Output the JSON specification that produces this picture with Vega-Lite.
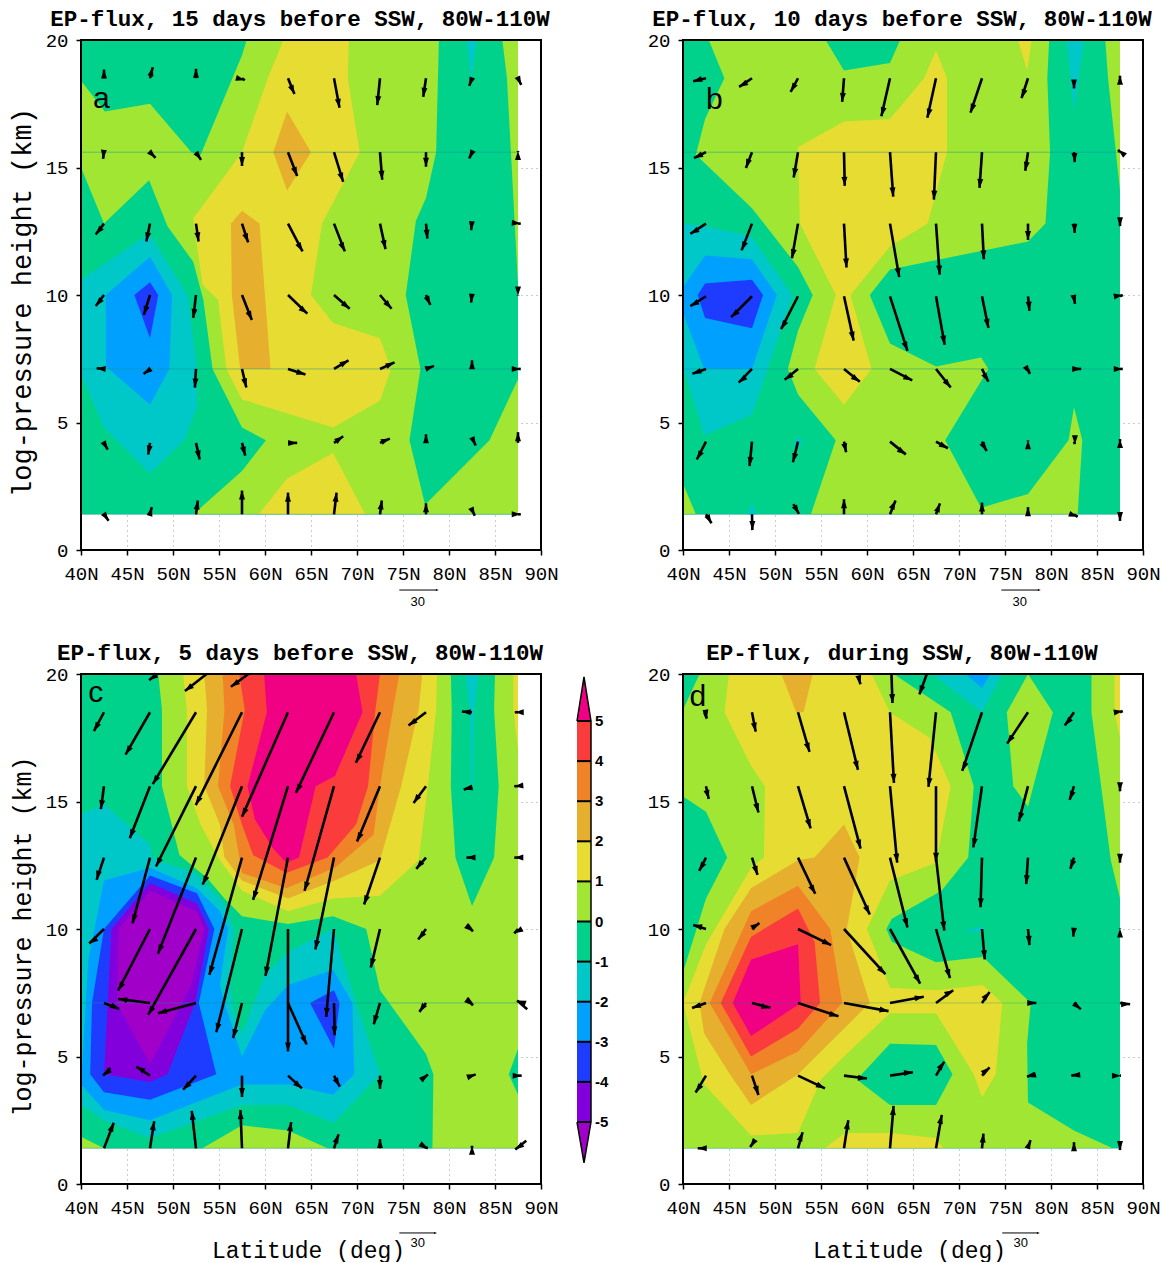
{"$schema":"https://vega.github.io/schema/vega-lite/v6.json","background":"white","padding":{"left":7,"top":7,"right":0,"bottom":0},"bounds":"flush","spacing":634,
"config":{"view":{"stroke":null},"axis":{"labelFont":"Liberation Mono","labelFontSize":19,"labelColor":"black","tickColor":"black","tickSize":5,"tickWidth":1.5,"domain":false,"grid":true,"gridColor":"#999999","gridDash":[1,4],"gridWidth":1,"labelOverlap":false,"labelFlush":false,"labelBound":false,"titleFont":"Liberation Mono","titleFontWeight":"normal","titleColor":"black","zindex":1},"title":{"font":"Liberation Mono","fontSize":22.5,"fontWeight":"bold","color":"black","dx":-11,"offset":1}},
"datasets":{
"box":[{"x":40,"x2":90,"y":0,"y2":20}],
"pa":[
{"k":0,"l":-1,"x":40,"y":1.4},{"k":0,"l":-1,"x":87.5,"y":1.4},{"k":0,"l":-1,"x":87.5,"y":20},{"k":0,"l":-1,"x":40,"y":20},
{"k":1,"l":0,"x":40,"y":18.4},{"k":1,"l":0,"x":42.6,"y":17.2},{"k":1,"l":0,"x":47.5,"y":17.5},{"k":1,"l":0,"x":52,"y":15.6},{"k":1,"l":0,"x":53,"y":15.5},{"k":1,"l":0,"x":57.5,"y":19.4},{"k":1,"l":0,"x":58,"y":20},{"k":1,"l":0,"x":78.9,"y":20},{"k":1,"l":0,"x":78.6,"y":15.6},{"k":1,"l":0,"x":77.5,"y":13.8},{"k":1,"l":0,"x":76.4,"y":12.9},{"k":1,"l":0,"x":75.3,"y":10},{"k":1,"l":0,"x":76.9,"y":7.1},{"k":1,"l":0,"x":75.7,"y":4.3},{"k":1,"l":0,"x":77.4,"y":1.77},{"k":1,"l":0,"x":84.4,"y":4.3},{"k":1,"l":0,"x":87.5,"y":6.7},{"k":1,"l":0,"x":87.5,"y":1.4},{"k":1,"l":0,"x":52.2,"y":1.4},{"k":1,"l":0,"x":57.5,"y":3.1},{"k":1,"l":0,"x":60.1,"y":4.3},{"k":1,"l":0,"x":57.5,"y":4.8},{"k":1,"l":0,"x":54.3,"y":7.1},{"k":1,"l":0,"x":53.3,"y":9.8},{"k":1,"l":0,"x":52.2,"y":11.3},{"k":1,"l":0,"x":49.4,"y":12.7},{"k":1,"l":0,"x":47.4,"y":14.5},{"k":1,"l":0,"x":42.5,"y":12.8},{"k":1,"l":0,"x":40,"y":15},
{"k":2,"l":0,"x":85.8,"y":20},{"k":2,"l":0,"x":86.3,"y":18.5},{"k":2,"l":0,"x":87.5,"y":10.4},{"k":2,"l":0,"x":87.5,"y":20},
{"k":3,"l":1,"x":62,"y":20},{"k":3,"l":1,"x":60.3,"y":18.5},{"k":3,"l":1,"x":57.5,"y":15.6},{"k":3,"l":1,"x":52.2,"y":13},{"k":3,"l":1,"x":53.2,"y":10.4},{"k":3,"l":1,"x":54.9,"y":9.8},{"k":3,"l":1,"x":55.8,"y":7.1},{"k":3,"l":1,"x":57.5,"y":5.9},{"k":3,"l":1,"x":67.4,"y":4.8},{"k":3,"l":1,"x":72.5,"y":5.85},{"k":3,"l":1,"x":73.7,"y":7.1},{"k":3,"l":1,"x":72.5,"y":8.3},{"k":3,"l":1,"x":67.4,"y":8.9},{"k":3,"l":1,"x":65,"y":10},{"k":3,"l":1,"x":66.2,"y":12.8},{"k":3,"l":1,"x":70.3,"y":15.6},{"k":3,"l":1,"x":69,"y":18.5},{"k":3,"l":1,"x":69.1,"y":20},
{"k":4,"l":1,"x":59.3,"y":1.4},{"k":4,"l":1,"x":62.4,"y":2.8},{"k":4,"l":1,"x":67.4,"y":3.8},{"k":4,"l":1,"x":70.9,"y":1.4},
{"k":5,"l":2,"x":62.4,"y":17.2},{"k":5,"l":2,"x":65,"y":15.6},{"k":5,"l":2,"x":62.4,"y":14.1},{"k":5,"l":2,"x":60.9,"y":15.6},
{"k":6,"l":2,"x":57.5,"y":13.3},{"k":6,"l":2,"x":59.4,"y":12.8},{"k":6,"l":2,"x":60.6,"y":7.1},{"k":6,"l":2,"x":57.3,"y":7.1},{"k":6,"l":2,"x":56.4,"y":10},{"k":6,"l":2,"x":56.3,"y":12.8},
{"k":7,"l":-2,"x":40,"y":10.6},{"k":7,"l":-2,"x":47.4,"y":12.4},{"k":7,"l":-2,"x":51.6,"y":10},{"k":7,"l":-2,"x":52.6,"y":7.1},{"k":7,"l":-2,"x":52.6,"y":5.6},{"k":7,"l":-2,"x":51.2,"y":4.3},{"k":7,"l":-2,"x":47.5,"y":3},{"k":7,"l":-2,"x":42.5,"y":4.8},{"k":7,"l":-2,"x":40,"y":6.9},
{"k":8,"l":-3,"x":42.7,"y":10},{"k":8,"l":-3,"x":47.5,"y":11.5},{"k":8,"l":-3,"x":49.9,"y":10},{"k":8,"l":-3,"x":49.6,"y":7.1},{"k":8,"l":-3,"x":47.5,"y":5.7},{"k":8,"l":-3,"x":42.7,"y":7.2},
{"k":9,"l":-4,"x":47.5,"y":10.5},{"k":9,"l":-4,"x":48.4,"y":10},{"k":9,"l":-4,"x":47.5,"y":8.3},{"k":9,"l":-4,"x":45.8,"y":10},
{"k":10,"l":-2,"x":81.9,"y":20},{"k":10,"l":-2,"x":83,"y":20},{"k":10,"l":-2,"x":82.4,"y":18.4}],
"pb":[
{"k":0,"l":-1,"x":40,"y":1.4},{"k":0,"l":-1,"x":87.5,"y":1.4},{"k":0,"l":-1,"x":87.5,"y":20},{"k":0,"l":-1,"x":40,"y":20},
{"k":1,"l":0,"x":42.8,"y":20},{"k":1,"l":0,"x":55.5,"y":20},{"k":1,"l":0,"x":57.5,"y":18.8},{"k":1,"l":0,"x":62.5,"y":19.1},{"k":1,"l":0,"x":63.6,"y":20},{"k":1,"l":0,"x":79.8,"y":20},{"k":1,"l":0,"x":79.6,"y":18.5},{"k":1,"l":0,"x":79.9,"y":15.6},{"k":1,"l":0,"x":79.4,"y":12.8},{"k":1,"l":0,"x":77.5,"y":12.1},{"k":1,"l":0,"x":62.5,"y":11},{"k":1,"l":0,"x":60.3,"y":10},{"k":1,"l":0,"x":62.5,"y":8.1},{"k":1,"l":0,"x":67.5,"y":7.2},{"k":1,"l":0,"x":72.4,"y":7.55},{"k":1,"l":0,"x":73.2,"y":7.1},{"k":1,"l":0,"x":68.5,"y":4.3},{"k":1,"l":0,"x":72.4,"y":1.66},{"k":1,"l":0,"x":77.5,"y":2.2},{"k":1,"l":0,"x":81.9,"y":4.3},{"k":1,"l":0,"x":82.5,"y":5.6},{"k":1,"l":0,"x":83.4,"y":4.3},{"k":1,"l":0,"x":82.9,"y":1.4},{"k":1,"l":0,"x":53.9,"y":1.4},{"k":1,"l":0,"x":56.6,"y":4.3},{"k":1,"l":0,"x":52.5,"y":6.1},{"k":1,"l":0,"x":51.4,"y":7.1},{"k":1,"l":0,"x":52.5,"y":8.6},{"k":1,"l":0,"x":54.1,"y":10},{"k":1,"l":0,"x":52.5,"y":11.1},{"k":1,"l":0,"x":47.5,"y":13.4},{"k":1,"l":0,"x":41.4,"y":15.5},{"k":1,"l":0,"x":42.4,"y":16.9},{"k":1,"l":0,"x":44.5,"y":18.5},
{"k":2,"l":0,"x":85.9,"y":20},{"k":2,"l":0,"x":86.2,"y":18.5},{"k":2,"l":0,"x":87.5,"y":14.1},{"k":2,"l":0,"x":87.5,"y":20},
{"k":3,"l":0,"x":40,"y":2.6},{"k":3,"l":0,"x":41.4,"y":1.4},{"k":3,"l":0,"x":40,"y":1.4},
{"k":4,"l":1,"x":52.5,"y":15.8},{"k":4,"l":1,"x":57.5,"y":16.8},{"k":4,"l":1,"x":62.5,"y":16.9},{"k":4,"l":1,"x":66.2,"y":18.5},{"k":4,"l":1,"x":67.5,"y":19.6},{"k":4,"l":1,"x":68.7,"y":18.5},{"k":4,"l":1,"x":68.7,"y":15.6},{"k":4,"l":1,"x":66.6,"y":12.8},{"k":4,"l":1,"x":62.5,"y":11.9},{"k":4,"l":1,"x":58.2,"y":10},{"k":4,"l":1,"x":60.5,"y":7.1},{"k":4,"l":1,"x":57.5,"y":5.7},{"k":4,"l":1,"x":54.3,"y":7.1},{"k":4,"l":1,"x":56.6,"y":10},{"k":4,"l":1,"x":52.7,"y":12.8},
{"k":5,"l":1,"x":76.4,"y":20},{"k":5,"l":1,"x":77.9,"y":20},{"k":5,"l":1,"x":77.4,"y":18.8},
{"k":6,"l":-2,"x":40,"y":12.8},{"k":6,"l":-2,"x":42.4,"y":12.7},{"k":6,"l":-2,"x":47.4,"y":12.3},{"k":6,"l":-2,"x":51.9,"y":10},{"k":6,"l":-2,"x":50.7,"y":8.7},{"k":6,"l":-2,"x":47.5,"y":5.3},{"k":6,"l":-2,"x":42.3,"y":4.5},{"k":6,"l":-2,"x":40,"y":7.2},
{"k":7,"l":-3,"x":42.4,"y":11.55},{"k":7,"l":-3,"x":47.5,"y":11.4},{"k":7,"l":-3,"x":50.2,"y":10},{"k":7,"l":-3,"x":47.5,"y":7.1},{"k":7,"l":-3,"x":42.3,"y":7.1},{"k":7,"l":-3,"x":40,"y":9.3},{"k":7,"l":-3,"x":40,"y":10.3},
{"k":8,"l":-4,"x":42.4,"y":10.45},{"k":8,"l":-4,"x":47.5,"y":10.6},{"k":8,"l":-4,"x":48.7,"y":10},{"k":8,"l":-4,"x":47.5,"y":8.7},{"k":8,"l":-4,"x":42.4,"y":9.1},{"k":8,"l":-4,"x":41.6,"y":10},
{"k":9,"l":-2,"x":81.7,"y":20},{"k":9,"l":-2,"x":83.6,"y":20},{"k":9,"l":-2,"x":82.5,"y":17.2},
{"k":10,"l":-2,"x":52,"y":4.2},{"k":10,"l":-2,"x":52.5,"y":4.45},{"k":10,"l":-2,"x":53,"y":4.2},{"k":10,"l":-2,"x":52.5,"y":4},
{"k":11,"l":-2,"x":47,"y":1.4},{"k":11,"l":-2,"x":47.5,"y":1.85},{"k":11,"l":-2,"x":48,"y":1.4}],
"pc":[
{"k":0,"l":0,"x":40,"y":1.4},{"k":0,"l":0,"x":87.5,"y":1.4},{"k":0,"l":0,"x":87.5,"y":20},{"k":0,"l":0,"x":40,"y":20},
{"k":1,"l":-1,"x":40,"y":20},{"k":1,"l":-1,"x":48.4,"y":20},{"k":1,"l":-1,"x":48.8,"y":18.6},{"k":1,"l":-1,"x":48.8,"y":15.6},{"k":1,"l":-1,"x":50.7,"y":12.9},{"k":1,"l":-1,"x":53.7,"y":12},{"k":1,"l":-1,"x":55.6,"y":11.2},{"k":1,"l":-1,"x":57.5,"y":10.5},{"k":1,"l":-1,"x":62.5,"y":10.2},{"k":1,"l":-1,"x":67.4,"y":10.5},{"k":1,"l":-1,"x":71,"y":10},{"k":1,"l":-1,"x":72.5,"y":7.6},{"k":1,"l":-1,"x":77.5,"y":5.1},{"k":1,"l":-1,"x":78.3,"y":4.3},{"k":1,"l":-1,"x":78.2,"y":1.4},{"k":1,"l":-1,"x":66.8,"y":1.4},{"k":1,"l":-1,"x":62.5,"y":2.1},{"k":1,"l":-1,"x":57.5,"y":2.3},{"k":1,"l":-1,"x":53.2,"y":1.4},{"k":1,"l":-1,"x":42.5,"y":1.4},{"k":1,"l":-1,"x":40,"y":1.85},
{"k":2,"l":-1,"x":80.2,"y":20},{"k":2,"l":-1,"x":85,"y":20},{"k":2,"l":-1,"x":84.9,"y":18.6},{"k":2,"l":-1,"x":85.4,"y":15.6},{"k":2,"l":-1,"x":84.9,"y":12.8},{"k":2,"l":-1,"x":82.5,"y":10.9},{"k":2,"l":-1,"x":80.7,"y":12.8},{"k":2,"l":-1,"x":80.2,"y":15.6},{"k":2,"l":-1,"x":80.3,"y":18.6},
{"k":3,"l":-1,"x":87.5,"y":5.3},{"k":3,"l":-1,"x":86.5,"y":4.3},{"k":3,"l":-1,"x":87.5,"y":3.5},
{"k":4,"l":1,"x":87,"y":20},{"k":4,"l":1,"x":87.5,"y":20},{"k":4,"l":1,"x":87.5,"y":17},{"k":4,"l":1,"x":87,"y":18.6},
{"k":5,"l":-2,"x":81.8,"y":20},{"k":5,"l":-2,"x":83.2,"y":20},{"k":5,"l":-2,"x":82.7,"y":18.5},{"k":5,"l":-2,"x":82.6,"y":15.6},{"k":5,"l":-2,"x":82.4,"y":15.6},{"k":5,"l":-2,"x":82.3,"y":18.5},
{"k":6,"l":1,"x":51.1,"y":20},{"k":6,"l":1,"x":51.5,"y":18.6},{"k":6,"l":1,"x":51.5,"y":15.6},{"k":6,"l":1,"x":53,"y":14.1},{"k":6,"l":1,"x":54.9,"y":12.8},{"k":6,"l":1,"x":57.5,"y":11.5},{"k":6,"l":1,"x":62.5,"y":10.7},{"k":6,"l":1,"x":67.4,"y":11.2},{"k":6,"l":1,"x":72.5,"y":11.3},{"k":6,"l":1,"x":76.7,"y":12.7},{"k":6,"l":1,"x":77.7,"y":15.6},{"k":6,"l":1,"x":78.6,"y":18.6},{"k":6,"l":1,"x":78.7,"y":20},
{"k":7,"l":2,"x":53.4,"y":20},{"k":7,"l":2,"x":53.7,"y":18.6},{"k":7,"l":2,"x":53.4,"y":15.6},{"k":7,"l":2,"x":55.1,"y":14.1},{"k":7,"l":2,"x":55.6,"y":12.8},{"k":7,"l":2,"x":57.5,"y":11.9},{"k":7,"l":2,"x":62.5,"y":11.2},{"k":7,"l":2,"x":67.6,"y":11.9},{"k":7,"l":2,"x":72.5,"y":12.7},{"k":7,"l":2,"x":74.8,"y":15.6},{"k":7,"l":2,"x":76.7,"y":18.6},{"k":7,"l":2,"x":77.1,"y":20},
{"k":8,"l":3,"x":55.4,"y":20},{"k":8,"l":3,"x":55.6,"y":18.6},{"k":8,"l":3,"x":54.9,"y":15.6},{"k":8,"l":3,"x":56.6,"y":14.1},{"k":8,"l":3,"x":57.5,"y":12.2},{"k":8,"l":3,"x":62.3,"y":11.6},{"k":8,"l":3,"x":67.6,"y":12.4},{"k":8,"l":3,"x":71.8,"y":13.7},{"k":8,"l":3,"x":72.5,"y":15.6},{"k":8,"l":3,"x":73.9,"y":18.6},{"k":8,"l":3,"x":74.6,"y":20},
{"k":9,"l":4,"x":57.2,"y":20},{"k":9,"l":4,"x":57.8,"y":18.6},{"k":9,"l":4,"x":56.2,"y":15.6},{"k":9,"l":4,"x":57.5,"y":14.1},{"k":9,"l":4,"x":58.7,"y":12.9},{"k":9,"l":4,"x":62.3,"y":12.2},{"k":9,"l":4,"x":66.8,"y":12.8},{"k":9,"l":4,"x":69.9,"y":14.1},{"k":9,"l":4,"x":71.2,"y":15.6},{"k":9,"l":4,"x":72,"y":18.6},{"k":9,"l":4,"x":72.5,"y":20},
{"k":10,"l":5,"x":59.9,"y":20},{"k":10,"l":5,"x":60.2,"y":18.5},{"k":10,"l":5,"x":58.1,"y":15.6},{"k":10,"l":5,"x":58.9,"y":14.3},{"k":10,"l":5,"x":60.8,"y":13.2},{"k":10,"l":5,"x":62.3,"y":12.6},{"k":10,"l":5,"x":63.7,"y":12.8},{"k":10,"l":5,"x":65.5,"y":15.6},{"k":10,"l":5,"x":67.6,"y":16},{"k":10,"l":5,"x":70.6,"y":18.5},{"k":10,"l":5,"x":69.9,"y":20},
{"k":11,"l":-2,"x":40,"y":14.5},{"k":11,"l":-2,"x":42.5,"y":14.9},{"k":11,"l":-2,"x":47.5,"y":13.3},{"k":11,"l":-2,"x":47.7,"y":12.8},{"k":11,"l":-2,"x":49,"y":12.6},{"k":11,"l":-2,"x":52.4,"y":12.2},{"k":11,"l":-2,"x":55.55,"y":11},{"k":11,"l":-2,"x":56.6,"y":10},{"k":11,"l":-2,"x":56.2,"y":7.8},{"k":11,"l":-2,"x":56.6,"y":6.7},{"k":11,"l":-2,"x":57.5,"y":5.9},{"k":11,"l":-2,"x":60,"y":8.2},{"k":11,"l":-2,"x":62.5,"y":9.1},{"k":11,"l":-2,"x":67.4,"y":10},{"k":11,"l":-2,"x":69.9,"y":7.1},{"k":11,"l":-2,"x":72.5,"y":4.3},{"k":11,"l":-2,"x":67.5,"y":2.4},{"k":11,"l":-2,"x":62.5,"y":3.1},{"k":11,"l":-2,"x":57.5,"y":3.1},{"k":11,"l":-2,"x":47.5,"y":1.8},{"k":11,"l":-2,"x":42.5,"y":2.5},{"k":11,"l":-2,"x":40,"y":3.1},
{"k":12,"l":-3,"x":40,"y":3.9},{"k":12,"l":-3,"x":40.8,"y":8.8},{"k":12,"l":-3,"x":42.5,"y":11.9},{"k":12,"l":-3,"x":47.5,"y":12.4},{"k":12,"l":-3,"x":52.6,"y":11.6},{"k":12,"l":-3,"x":55.1,"y":10.7},{"k":12,"l":-3,"x":56,"y":10},{"k":12,"l":-3,"x":55.1,"y":7.8},{"k":12,"l":-3,"x":55.6,"y":7.1},{"k":12,"l":-3,"x":57.5,"y":5},{"k":12,"l":-3,"x":60,"y":6.8},{"k":12,"l":-3,"x":62.5,"y":7.8},{"k":12,"l":-3,"x":67.4,"y":8.4},{"k":12,"l":-3,"x":69.5,"y":7.1},{"k":12,"l":-3,"x":69.7,"y":4.3},{"k":12,"l":-3,"x":67.4,"y":3.5},{"k":12,"l":-3,"x":62.5,"y":3.9},{"k":12,"l":-3,"x":57.5,"y":3.9},{"k":12,"l":-3,"x":47.5,"y":2.5},{"k":12,"l":-3,"x":42.5,"y":2.9},
{"k":13,"l":-4,"x":42.5,"y":10},{"k":13,"l":-4,"x":47.5,"y":12.1},{"k":13,"l":-4,"x":52.6,"y":11.4},{"k":13,"l":-4,"x":54.5,"y":10},{"k":13,"l":-4,"x":52.8,"y":7.1},{"k":13,"l":-4,"x":54.7,"y":4.3},{"k":13,"l":-4,"x":47.5,"y":3.3},{"k":13,"l":-4,"x":42.5,"y":3.6},{"k":13,"l":-4,"x":41,"y":4.3},{"k":13,"l":-4,"x":41.2,"y":7.1},
{"k":14,"l":-5,"x":47.5,"y":11.8},{"k":14,"l":-5,"x":52.6,"y":11},{"k":14,"l":-5,"x":53.9,"y":10},{"k":14,"l":-5,"x":52.4,"y":7.1},{"k":14,"l":-5,"x":49.4,"y":4.3},{"k":14,"l":-5,"x":47.5,"y":4},{"k":14,"l":-5,"x":42.5,"y":4.3},{"k":14,"l":-5,"x":42.9,"y":7.1},{"k":14,"l":-5,"x":43.3,"y":10},
{"k":15,"l":-6,"x":47.5,"y":11.5},{"k":15,"l":-6,"x":52.6,"y":10.7},{"k":15,"l":-6,"x":53.4,"y":10},{"k":15,"l":-6,"x":52,"y":7.8},{"k":15,"l":-6,"x":47.5,"y":4.7},{"k":15,"l":-6,"x":43.9,"y":7.1},{"k":15,"l":-6,"x":44.1,"y":10},
{"k":16,"l":-4,"x":64.9,"y":7.1},{"k":16,"l":-4,"x":67.5,"y":7.6},{"k":16,"l":-4,"x":68.1,"y":7.1},{"k":16,"l":-4,"x":67.5,"y":5.3}],
"pd":[
{"k":0,"l":-1,"x":40,"y":1.4},{"k":0,"l":-1,"x":87.5,"y":1.4},{"k":0,"l":-1,"x":87.5,"y":20},{"k":0,"l":-1,"x":40,"y":20},
{"k":1,"l":0,"x":40,"y":18.6},{"k":1,"l":0,"x":41.8,"y":20},{"k":1,"l":0,"x":62.9,"y":20},{"k":1,"l":0,"x":69.1,"y":18.5},{"k":1,"l":0,"x":71.6,"y":15.6},{"k":1,"l":0,"x":71,"y":12.8},{"k":1,"l":0,"x":68.1,"y":11.5},{"k":1,"l":0,"x":62.7,"y":10.4},{"k":1,"l":0,"x":62.1,"y":10},{"k":1,"l":0,"x":62.7,"y":9.5},{"k":1,"l":0,"x":67.5,"y":8.7},{"k":1,"l":0,"x":72.6,"y":8.9},{"k":1,"l":0,"x":77.8,"y":7.1},{"k":1,"l":0,"x":77.4,"y":5.5},{"k":1,"l":0,"x":77.5,"y":3.2},{"k":1,"l":0,"x":82.5,"y":2.1},{"k":1,"l":0,"x":86.7,"y":1.4},{"k":1,"l":0,"x":40,"y":1.4},{"k":1,"l":0,"x":40,"y":8.3},{"k":1,"l":0,"x":42.5,"y":11.2},{"k":1,"l":0,"x":44.8,"y":12.8},{"k":1,"l":0,"x":42.5,"y":14.6},{"k":1,"l":0,"x":40,"y":15.2},
{"k":2,"l":-1,"x":62.5,"y":5.5},{"k":2,"l":-1,"x":67.5,"y":5.45},{"k":2,"l":-1,"x":69.3,"y":4.3},{"k":2,"l":-1,"x":67.5,"y":3.1},{"k":2,"l":-1,"x":62.5,"y":3.1},{"k":2,"l":-1,"x":58.9,"y":4.1},
{"k":3,"l":0,"x":77.5,"y":20},{"k":3,"l":0,"x":80.2,"y":18.5},{"k":3,"l":0,"x":77.5,"y":14.8},{"k":3,"l":0,"x":75.9,"y":15.6},{"k":3,"l":0,"x":75.2,"y":18.5},
{"k":4,"l":0,"x":84.4,"y":20},{"k":4,"l":0,"x":84.4,"y":18.5},{"k":4,"l":0,"x":86.5,"y":12.7},{"k":4,"l":0,"x":87.5,"y":11.2},{"k":4,"l":0,"x":87.5,"y":20},
{"k":5,"l":1,"x":86.9,"y":20},{"k":5,"l":1,"x":87.5,"y":20},{"k":5,"l":1,"x":87.5,"y":17.5},{"k":5,"l":1,"x":86.9,"y":18.5},
{"k":6,"l":1,"x":45,"y":20},{"k":6,"l":1,"x":44.5,"y":18.5},{"k":6,"l":1,"x":47.4,"y":16.4},{"k":6,"l":1,"x":48.9,"y":15.6},{"k":6,"l":1,"x":48.8,"y":12.8},{"k":6,"l":1,"x":47.4,"y":12.4},{"k":6,"l":1,"x":42.5,"y":9.4},{"k":6,"l":1,"x":40,"y":7.1},{"k":6,"l":1,"x":42.3,"y":3.9},{"k":6,"l":1,"x":47.4,"y":1.9},{"k":6,"l":1,"x":52.5,"y":2},{"k":6,"l":1,"x":55,"y":4.1},{"k":6,"l":1,"x":57.5,"y":5},{"k":6,"l":1,"x":62.5,"y":6.7},{"k":6,"l":1,"x":67.5,"y":6.7},{"k":6,"l":1,"x":71.6,"y":4.3},{"k":6,"l":1,"x":72.5,"y":3.4},{"k":6,"l":1,"x":74,"y":4.3},{"k":6,"l":1,"x":74.7,"y":7.1},{"k":6,"l":1,"x":72.6,"y":7.8},{"k":6,"l":1,"x":67.5,"y":7.6},{"k":6,"l":1,"x":62.5,"y":7.7},{"k":6,"l":1,"x":60,"y":10},{"k":6,"l":1,"x":62.5,"y":11.9},{"k":6,"l":1,"x":67.5,"y":12.6},{"k":6,"l":1,"x":69.1,"y":15.6},{"k":6,"l":1,"x":66.8,"y":17.5},{"k":6,"l":1,"x":62.5,"y":18.5},{"k":6,"l":1,"x":60.5,"y":20},
{"k":7,"l":1,"x":55.4,"y":1.4},{"k":7,"l":1,"x":57.6,"y":2},{"k":7,"l":1,"x":62.5,"y":2},{"k":7,"l":1,"x":67.5,"y":1.8},{"k":7,"l":1,"x":68.3,"y":1.4},
{"k":8,"l":2,"x":50.7,"y":20},{"k":8,"l":2,"x":54.1,"y":20},{"k":8,"l":2,"x":53.1,"y":18.5},{"k":8,"l":2,"x":52.3,"y":18.5},
{"k":9,"l":2,"x":57.5,"y":14.1},{"k":9,"l":2,"x":59.2,"y":12.8},{"k":9,"l":2,"x":57.8,"y":10},{"k":9,"l":2,"x":60.3,"y":7.1},{"k":9,"l":2,"x":52.5,"y":4.3},{"k":9,"l":2,"x":47.4,"y":3.1},{"k":9,"l":2,"x":45.1,"y":4.3},{"k":9,"l":2,"x":42.3,"y":5.9},{"k":9,"l":2,"x":41.8,"y":7.1},{"k":9,"l":2,"x":44.5,"y":10},{"k":9,"l":2,"x":47.4,"y":11.6},{"k":9,"l":2,"x":52.5,"y":12.7},{"k":9,"l":2,"x":54.3,"y":12.8},
{"k":10,"l":3,"x":52.5,"y":11.7},{"k":10,"l":3,"x":56,"y":10},{"k":10,"l":3,"x":57.3,"y":7.1},{"k":10,"l":3,"x":52.5,"y":5.2},{"k":10,"l":3,"x":47.4,"y":4.3},{"k":10,"l":3,"x":42.9,"y":7.1},{"k":10,"l":3,"x":47.4,"y":10.7},
{"k":11,"l":4,"x":52.5,"y":10.8},{"k":11,"l":4,"x":54.3,"y":9.5},{"k":11,"l":4,"x":54.9,"y":7.1},{"k":11,"l":4,"x":52.5,"y":6.1},{"k":11,"l":4,"x":47.4,"y":5},{"k":11,"l":4,"x":44.1,"y":7.1},{"k":11,"l":4,"x":47.4,"y":9.7},
{"k":12,"l":5,"x":52.5,"y":9.4},{"k":12,"l":5,"x":52.8,"y":7.1},{"k":12,"l":5,"x":47.4,"y":5.8},{"k":12,"l":5,"x":45.4,"y":7.1},{"k":12,"l":5,"x":47.4,"y":8.8},
{"k":13,"l":-2,"x":67.1,"y":20},{"k":13,"l":-2,"x":74.7,"y":20},{"k":13,"l":-2,"x":72.5,"y":18.5},
{"k":14,"l":-3,"x":70.7,"y":20},{"k":14,"l":-3,"x":73.4,"y":20},{"k":14,"l":-3,"x":72.5,"y":19.45},
{"k":15,"l":-2,"x":70.3,"y":9.9},{"k":15,"l":-2,"x":72.5,"y":10.1},{"k":15,"l":-2,"x":72.7,"y":9.9}],
"aa":[
{"x":42.5,"y":18.5,"x2":42.5,"y2":18.84,"a":0},{"x":47.5,"y":18.5,"x2":47.8,"y2":18.93,"a":15},{"x":52.5,"y":18.5,"x2":52.5,"y2":18.87,"a":0},{"x":57.5,"y":18.5,"x2":57.8,"y2":18.42,"a":105},{"x":62.5,"y":18.5,"x2":63.2,"y2":17.88,"a":156},{"x":67.5,"y":18.5,"x2":68.1,"y2":17.34,"a":169},{"x":72.5,"y":18.5,"x2":72.2,"y2":17.45,"a":187},{"x":77.5,"y":18.5,"x2":77.2,"y2":17.77,"a":188},{"x":82.5,"y":18.5,"x2":82.2,"y2":18.2,"a":200},{"x":87.5,"y":18.5,"x2":87.85,"y2":18.24,"a":155},
{"x":42.5,"y":15.6,"x2":42.4,"y2":15.34,"a":185},{"x":47.5,"y":15.6,"x2":48.1,"y2":15.38,"a":135},{"x":52.5,"y":15.6,"x2":53.05,"y2":15.3,"a":145},{"x":57.5,"y":15.6,"x2":57.5,"y2":15.06,"a":180},{"x":62.5,"y":15.6,"x2":63.5,"y2":14.67,"a":158},{"x":67.5,"y":15.6,"x2":68.5,"y2":14.44,"a":161},{"x":72.5,"y":15.6,"x2":72.74,"y2":14.52,"a":175},{"x":77.5,"y":15.6,"x2":77.5,"y2":15.03,"a":180},{"x":82.5,"y":15.6,"x2":82.2,"y2":15.35,"a":205},{"x":87.5,"y":15.6,"x2":87.5,"y2":15.65,"a":0},
{"x":42.5,"y":12.8,"x2":41.6,"y2":12.37,"a":220},{"x":47.5,"y":12.8,"x2":47.1,"y2":12.1,"a":192},{"x":52.5,"y":12.8,"x2":52.78,"y2":12.1,"a":172},{"x":57.5,"y":12.8,"x2":58.17,"y2":12.06,"a":160},{"x":62.5,"y":12.8,"x2":64.08,"y2":11.71,"a":150},{"x":67.5,"y":12.8,"x2":68.68,"y2":11.71,"a":155},{"x":72.5,"y":12.8,"x2":73.1,"y2":11.8,"a":167},{"x":77.5,"y":12.8,"x2":77.65,"y2":12.21,"a":175},{"x":82.5,"y":12.8,"x2":82.4,"y2":12.54,"a":185},{"x":87.5,"y":12.8,"x2":87.8,"y2":12.8,"a":95},
{"x":42.5,"y":10,"x2":41.6,"y2":9.57,"a":220},{"x":47.5,"y":10,"x2":46.83,"y2":9.22,"a":198},{"x":52.5,"y":10,"x2":52.2,"y2":9.1,"a":188},{"x":57.5,"y":10,"x2":58.57,"y2":9.02,"a":157},{"x":62.5,"y":10,"x2":64.6,"y2":9.27,"a":130},{"x":67.5,"y":10,"x2":69.2,"y2":9.46,"a":130},{"x":72.5,"y":10,"x2":73.76,"y2":9.46,"a":138},{"x":77.5,"y":10,"x2":77.97,"y2":9.61,"a":155},{"x":82.5,"y":10,"x2":82.4,"y2":9.7,"a":185},{"x":87.5,"y":10,"x2":87.5,"y2":9.98,"a":180},
{"x":42.5,"y":7.1,"x2":41.7,"y2":7.13,"a":275},{"x":47.5,"y":7.1,"x2":46.8,"y2":6.9,"a":235},{"x":52.5,"y":7.1,"x2":52.38,"y2":6.37,"a":184},{"x":57.5,"y":7.1,"x2":57.97,"y2":6.37,"a":166},{"x":62.5,"y":7.1,"x2":64.4,"y2":6.88,"a":107},{"x":67.5,"y":7.1,"x2":69.08,"y2":7.44,"a":60},{"x":72.5,"y":7.1,"x2":74.08,"y2":7.36,"a":65},{"x":77.5,"y":7.1,"x2":78.37,"y2":7.22,"a":70},{"x":82.5,"y":7.1,"x2":82.5,"y2":7.44,"a":0},{"x":87.5,"y":7.1,"x2":87.8,"y2":7.1,"a":90},
{"x":42.5,"y":4.2,"x2":42.9,"y2":3.94,"a":150},{"x":47.5,"y":4.2,"x2":47.3,"y2":3.74,"a":190},{"x":52.5,"y":4.2,"x2":52.9,"y2":3.55,"a":167},{"x":57.5,"y":4.2,"x2":57.85,"y2":3.7,"a":165},{"x":62.5,"y":4.2,"x2":63.5,"y2":4.2,"a":90},{"x":67.5,"y":4.2,"x2":68.5,"y2":4.46,"a":55},{"x":72.5,"y":4.2,"x2":73.57,"y2":4.37,"a":68},{"x":77.5,"y":4.2,"x2":77.5,"y2":4.54,"a":0},{"x":82.5,"y":4.4,"x2":82.9,"y2":4.1,"a":155},{"x":87.5,"y":4.2,"x2":87.5,"y2":4.62,"a":0},
{"x":42.5,"y":1.4,"x2":43,"y2":1.15,"a":145},{"x":47.5,"y":1.4,"x2":47.7,"y2":1.68,"a":15},{"x":52.5,"y":1.4,"x2":52.7,"y2":1.94,"a":8},{"x":57.5,"y":1.4,"x2":57.5,"y2":2.33,"a":0},{"x":62.5,"y":1.4,"x2":62.5,"y2":2.25,"a":0},{"x":67.5,"y":1.4,"x2":67.78,"y2":2.25,"a":7},{"x":72.5,"y":1.4,"x2":72.7,"y2":1.94,"a":8},{"x":77.5,"y":1.4,"x2":77.5,"y2":1.83,"a":0},{"x":82.5,"y":1.6,"x2":82.8,"y2":1.34,"a":155},{"x":87.5,"y":1.4,"x2":87.8,"y2":1.4,"a":90}],
"ab":[
{"x":42.5,"y":18.5,"x2":41.1,"y2":18.38,"a":255},{"x":47.5,"y":18.5,"x2":46.1,"y2":18.16,"a":240},{"x":52.5,"y":18.5,"x2":51.7,"y2":17.97,"a":210},{"x":57.5,"y":18.5,"x2":57.3,"y2":17.57,"a":185},{"x":62.5,"y":18.5,"x2":61.56,"y2":17.01,"a":195},{"x":67.5,"y":18.5,"x2":66.56,"y2":16.95,"a":195},{"x":72.5,"y":18.5,"x2":71.25,"y2":17.15,"a":200},{"x":77.5,"y":18.5,"x2":76.8,"y2":17.72,"a":200},{"x":82.5,"y":18.4,"x2":82.5,"y2":18.1,"a":180},{"x":87.5,"y":18.4,"x2":87.5,"y2":18.6,"a":0},
{"x":42.5,"y":15.6,"x2":41.2,"y2":15.37,"a":245},{"x":47.5,"y":15.6,"x2":46.84,"y2":14.98,"a":200},{"x":52.5,"y":15.6,"x2":52.03,"y2":14.61,"a":190},{"x":57.5,"y":15.6,"x2":57.58,"y2":14.28,"a":178},{"x":62.5,"y":15.6,"x2":62.85,"y2":13.86,"a":175},{"x":67.5,"y":15.6,"x2":67.27,"y2":13.74,"a":183},{"x":72.5,"y":15.6,"x2":72.23,"y2":14.2,"a":185},{"x":77.5,"y":15.6,"x2":77.2,"y2":14.87,"a":190},{"x":82.5,"y":15.6,"x2":82.58,"y2":15.21,"a":178},{"x":87.5,"y":15.6,"x2":87.3,"y2":15.7,"a":310},
{"x":42.5,"y":12.8,"x2":40.8,"y2":12.4,"a":240},{"x":47.5,"y":12.8,"x2":46.37,"y2":11.75,"a":203},{"x":52.5,"y":12.8,"x2":51.84,"y2":11.44,"a":192},{"x":57.5,"y":12.8,"x2":57.77,"y2":11.08,"a":177},{"x":62.5,"y":12.8,"x2":63.5,"y2":10.7,"a":170},{"x":67.5,"y":12.8,"x2":67.9,"y2":10.8,"a":176},{"x":72.5,"y":12.8,"x2":72.7,"y2":11.4,"a":177},{"x":77.5,"y":12.8,"x2":77.5,"y2":12.16,"a":180},{"x":82.5,"y":12.8,"x2":82.58,"y2":12.44,"a":178},{"x":87.5,"y":12.9,"x2":87.5,"y2":12.7,"a":180},
{"x":42.5,"y":9.95,"x2":40.8,"y2":9.56,"a":240},{"x":47.5,"y":9.95,"x2":45.23,"y2":9.13,"a":228},{"x":52.5,"y":9.95,"x2":50.66,"y2":8.66,"a":210},{"x":57.5,"y":9.95,"x2":58.55,"y2":8.21,"a":167},{"x":62.5,"y":9.95,"x2":64.4,"y2":7.81,"a":160},{"x":67.5,"y":9.95,"x2":68.44,"y2":8.05,"a":170},{"x":72.5,"y":9.95,"x2":73.2,"y2":8.71,"a":168},{"x":77.5,"y":9.95,"x2":77.66,"y2":9.38,"a":175},{"x":82.5,"y":9.95,"x2":82.6,"y2":9.65,"a":170},{"x":87.5,"y":9.95,"x2":87.8,"y2":10,"a":80},
{"x":42.5,"y":7.1,"x2":41.02,"y2":6.91,"a":250},{"x":47.5,"y":7.1,"x2":46.05,"y2":6.56,"a":230},{"x":52.5,"y":7.1,"x2":51.05,"y2":6.68,"a":235},{"x":57.5,"y":7.1,"x2":59.22,"y2":6.6,"a":125},{"x":62.5,"y":7.1,"x2":64.92,"y2":6.65,"a":115},{"x":67.5,"y":7.1,"x2":69.1,"y2":6.37,"a":140},{"x":72.5,"y":7.1,"x2":73.2,"y2":6.6,"a":150},{"x":77.5,"y":7.1,"x2":77.7,"y2":6.9,"a":150},{"x":82.5,"y":7.1,"x2":83.28,"y2":7.1,"a":90},{"x":87.5,"y":7.1,"x2":87.8,"y2":7.1,"a":90},
{"x":42.5,"y":4.25,"x2":41.5,"y2":3.55,"a":210},{"x":47.5,"y":4.25,"x2":47.23,"y2":3.29,"a":187},{"x":52.5,"y":4.25,"x2":51.95,"y2":3.44,"a":195},{"x":57.5,"y":4.25,"x2":57.73,"y2":3.83,"a":168},{"x":62.5,"y":4.25,"x2":64.22,"y2":3.75,"a":125},{"x":67.5,"y":4.25,"x2":68.8,"y2":3.99,"a":118},{"x":72.5,"y":4.25,"x2":73,"y2":3.88,"a":150},{"x":77.5,"y":4.25,"x2":77.5,"y2":4.3,"a":0},{"x":82.5,"y":4.25,"x2":82.6,"y2":4.15,"a":180},{"x":87.5,"y":4.25,"x2":87.5,"y2":4.35,"a":0},
{"x":42.5,"y":1.4,"x2":43.1,"y2":1.05,"a":150},{"x":47.5,"y":1.4,"x2":47.54,"y2":0.78,"a":180},{"x":52,"y":1.8,"x2":52.6,"y2":1.42,"a":150},{"x":57.5,"y":1.4,"x2":57.5,"y2":1.99,"a":0},{"x":62.5,"y":1.4,"x2":63.1,"y2":1.94,"a":25},{"x":67.5,"y":1.4,"x2":67.93,"y2":1.83,"a":20},{"x":72.5,"y":1.4,"x2":72.5,"y2":1.86,"a":0},{"x":77.5,"y":1.4,"x2":77.5,"y2":1.68,"a":0},{"x":82.5,"y":1.4,"x2":82.9,"y2":1.3,"a":110},{"x":87.5,"y":1.4,"x2":87.5,"y2":1.14,"a":180}],
"ac":[
{"x":48.3,"y":20,"x2":47.4,"y2":19.76,"a":235},{"x":53.65,"y":20,"x2":51.3,"y2":19.33,"a":232},{"x":58.2,"y":20,"x2":56.3,"y2":19.5,"a":235},
{"x":42.5,"y":18.5,"x2":41.4,"y2":17.76,"a":210},{"x":47.5,"y":18.5,"x2":44.84,"y2":16.84,"a":212},{"x":52.5,"y":18.5,"x2":47.8,"y2":15.68,"a":212},{"x":57.5,"y":18.5,"x2":52.47,"y2":14.86,"a":208},{"x":62.5,"y":18.5,"x2":57.5,"y2":14.4,"a":205},{"x":67.5,"y":18.5,"x2":63.36,"y2":15.34,"a":208},{"x":72.5,"y":18.5,"x2":69.88,"y2":16.52,"a":208},{"x":77.5,"y":18.5,"x2":75.6,"y2":17.98,"a":235},{"x":82.5,"y":18.5,"x2":81.4,"y2":18.53,"a":275},{"x":87.5,"y":18.5,"x2":87.15,"y2":18.5,"a":270},
{"x":42.5,"y":15.6,"x2":42.16,"y2":14.7,"a":188},{"x":47.5,"y":15.6,"x2":45.3,"y2":13.56,"a":202},{"x":52.5,"y":15.6,"x2":48.15,"y2":12.45,"a":208},{"x":57.5,"y":15.6,"x2":53.23,"y2":11.74,"a":205},{"x":62.5,"y":15.6,"x2":58.7,"y2":11.14,"a":198},{"x":67.5,"y":15.6,"x2":64.3,"y2":11.5,"a":197},{"x":72.5,"y":15.6,"x2":70,"y2":13.43,"a":205},{"x":77.5,"y":15.6,"x2":76.15,"y2":14.94,"a":215},{"x":82.5,"y":15.6,"x2":81.6,"y2":15.46,"a":255},{"x":87.5,"y":15.6,"x2":87.1,"y2":15.6,"a":265},
{"x":42.5,"y":12.8,"x2":41.7,"y2":11.93,"a":195},{"x":47.5,"y":12.8,"x2":45.6,"y2":10.22,"a":195},{"x":52.5,"y":12.8,"x2":48.36,"y2":9.03,"a":203},{"x":57.5,"y":12.8,"x2":53.95,"y2":8.2,"a":198},{"x":62.5,"y":12.8,"x2":60.05,"y2":8.16,"a":190},{"x":67.5,"y":12.8,"x2":65.47,"y2":9.2,"a":192},{"x":72.5,"y":12.8,"x2":70.77,"y2":10.96,"a":200},{"x":77.5,"y":12.8,"x2":76.44,"y2":12.36,"a":220},{"x":82.5,"y":12.8,"x2":81.9,"y2":12.8,"a":270},{"x":87.5,"y":12.8,"x2":87.1,"y2":12.8,"a":270},
{"x":42.5,"y":10,"x2":40.9,"y2":9.43,"a":235},{"x":47.5,"y":10,"x2":44.03,"y2":7.58,"a":210},{"x":52.5,"y":10,"x2":47.3,"y2":6.63,"a":210},{"x":57.5,"y":10,"x2":54.7,"y2":5.95,"a":195},{"x":62.5,"y":10,"x2":62.5,"y2":5.2,"a":180},{"x":67.5,"y":10,"x2":66.65,"y2":6.55,"a":185},{"x":72.5,"y":10,"x2":71.5,"y2":8.49,"a":195},{"x":77.5,"y":10,"x2":76.65,"y2":9.59,"a":220},{"x":82,"y":10.2,"x2":82.6,"y2":9.9,"a":130},{"x":87.5,"y":10,"x2":87.1,"y2":9.83,"a":240},
{"x":42.5,"y":7.1,"x2":44.15,"y2":6.86,"a":115},{"x":47.5,"y":7.1,"x2":44.03,"y2":7.26,"a":278},{"x":52.5,"y":7.1,"x2":48.36,"y2":6.7,"a":255},{"x":57.5,"y":7.1,"x2":56.53,"y2":5.72,"a":195},{"x":62.5,"y":7.1,"x2":64.53,"y2":5.47,"a":155},{"x":67.5,"y":7.1,"x2":67.58,"y2":5.83,"a":178},{"x":72.5,"y":7.1,"x2":71.82,"y2":6.26,"a":195},{"x":77.5,"y":7.1,"x2":76.78,"y2":6.75,"a":215},{"x":82,"y":7.3,"x2":82.6,"y2":7,"a":130},{"x":88.5,"y":6.85,"x2":87.4,"y2":7.2,"a":290},
{"x":43.2,"y":4.55,"x2":42.4,"y2":4.25,"a":230},{"x":47.5,"y":4.25,"x2":46.02,"y2":4.6,"a":300},{"x":52.5,"y":4.25,"x2":51.1,"y2":3.7,"a":225},{"x":57.5,"y":4.25,"x2":57.5,"y2":3.41,"a":180},{"x":62.5,"y":4.25,"x2":64.02,"y2":3.75,"a":130},{"x":67.5,"y":4.25,"x2":68.13,"y2":3.82,"a":150},{"x":72.5,"y":4.25,"x2":72.5,"y2":3.73,"a":180},{"x":77,"y":4.05,"x2":77.7,"y2":4.3,"a":50},{"x":82.2,"y":4.2,"x2":82.9,"y2":4.3,"a":70},{"x":87.5,"y":4.25,"x2":87.9,"y2":4.25,"a":90},
{"x":42.5,"y":1.4,"x2":43.56,"y2":2.4,"a":22},{"x":47.5,"y":1.4,"x2":47.96,"y2":2.46,"a":10},{"x":52.5,"y":1.4,"x2":52.04,"y2":2.87,"a":353},{"x":57.5,"y":1.4,"x2":57.33,"y2":2.9,"a":358},{"x":62.5,"y":1.4,"x2":62.84,"y2":2.43,"a":8},{"x":67.5,"y":1.4,"x2":68,"y2":1.95,"a":20},{"x":72.5,"y":1.4,"x2":72.5,"y2":1.76,"a":0},{"x":77,"y":1.5,"x2":77.7,"y2":1.4,"a":120},{"x":82.5,"y":1.4,"x2":82.5,"y2":1.5,"a":0},{"x":88.4,"y":1.7,"x2":87.2,"y2":1.35,"a":235}],
"ad":[
{"x":62.66,"y":20,"x2":62.77,"y2":18.86,"a":178},{"x":66.5,"y":20,"x2":65.7,"y2":19.2,"a":200},{"x":59,"y":19.9,"x2":59.3,"y2":19.6,"a":165},
{"x":42.3,"y":18.5,"x2":42.6,"y2":18.25,"a":170},{"x":47.5,"y":18.5,"x2":47.9,"y2":17.74,"a":168},{"x":52.5,"y":18.5,"x2":53.75,"y2":16.95,"a":162},{"x":57.5,"y":18.5,"x2":59.02,"y2":16.24,"a":165},{"x":62.5,"y":18.5,"x2":62.93,"y2":15.73,"a":177},{"x":67.5,"y":18.5,"x2":66.68,"y2":15.57,"a":187},{"x":72.5,"y":18.5,"x2":70.35,"y2":16.2,"a":203},{"x":77.5,"y":18.5,"x2":75.23,"y2":17.27,"a":215},{"x":82.5,"y":18.5,"x2":81.5,"y2":17.98,"a":220},{"x":87.5,"y":18.5,"x2":87.8,"y2":18.55,"a":80},
{"x":42.5,"y":15.6,"x2":42.8,"y2":15.1,"a":165},{"x":47.5,"y":15.6,"x2":48.2,"y2":14.57,"a":165},{"x":52.5,"y":15.6,"x2":53.87,"y2":13.95,"a":162},{"x":57.5,"y":15.6,"x2":59.3,"y2":13.15,"a":165},{"x":62.5,"y":15.6,"x2":63.28,"y2":12.6,"a":174},{"x":67.5,"y":15.6,"x2":67.5,"y2":12.64,"a":180},{"x":72.5,"y":15.6,"x2":71.56,"y2":13.2,"a":190},{"x":77.5,"y":15.6,"x2":76.5,"y2":14.22,"a":197},{"x":82.5,"y":15.6,"x2":82.03,"y2":15.06,"a":200},{"x":87.5,"y":15.6,"x2":87.5,"y2":15.4,"a":180},
{"x":42.5,"y":12.8,"x2":41.76,"y2":12.28,"a":210},{"x":47.5,"y":12.8,"x2":48.1,"y2":12.12,"a":162},{"x":52.5,"y":12.8,"x2":54.37,"y2":11.38,"a":152},{"x":57.5,"y":12.8,"x2":60.3,"y2":10.57,"a":153},{"x":62.5,"y":12.8,"x2":64.4,"y2":10.06,"a":165},{"x":67.5,"y":12.8,"x2":68.4,"y2":9.94,"a":173},{"x":72.5,"y":12.8,"x2":72.34,"y2":10.85,"a":182},{"x":77.5,"y":12.8,"x2":77.3,"y2":11.76,"a":185},{"x":82.5,"y":12.8,"x2":82.1,"y2":12.36,"a":200},{"x":87.5,"y":12.8,"x2":87.5,"y2":12.6,"a":180},
{"x":42.5,"y":10,"x2":41.1,"y2":10.16,"a":285},{"x":47.5,"y":10,"x2":48.3,"y2":10.24,"a":55},{"x":52.5,"y":10,"x2":56.1,"y2":9.37,"a":115},{"x":57.5,"y":10,"x2":62,"y2":8.23,"a":135},{"x":62.5,"y":10,"x2":65.78,"y2":7.86,"a":150},{"x":67.5,"y":10,"x2":69.02,"y2":8.07,"a":163},{"x":72.5,"y":10,"x2":72.8,"y2":8.81,"a":175},{"x":77.5,"y":10,"x2":77.66,"y2":9.37,"a":175},{"x":82.5,"y":10,"x2":82.42,"y2":9.7,"a":185},{"x":87.5,"y":10,"x2":87.5,"y2":10.02,"a":0},
{"x":42.5,"y":7.1,"x2":40.98,"y2":6.9,"a":250},{"x":47.5,"y":7.1,"x2":49.5,"y2":6.91,"a":100},{"x":52.5,"y":7.1,"x2":56.9,"y2":6.58,"a":105},{"x":57.5,"y":7.1,"x2":62.34,"y2":6.78,"a":100},{"x":62.5,"y":7.1,"x2":66.17,"y2":7.34,"a":80},{"x":67.5,"y":7.1,"x2":69.37,"y2":7.6,"a":60},{"x":72.5,"y":7.1,"x2":73.32,"y2":7.53,"a":40},{"x":77.5,"y":7.1,"x2":78.4,"y2":7.1,"a":90},{"x":82.5,"y":7.1,"x2":83.24,"y2":6.85,"a":130},{"x":87.5,"y":7.1,"x2":88.6,"y2":7.05,"a":90},
{"x":42.5,"y":4.25,"x2":41.37,"y2":3.59,"a":215},{"x":47.5,"y":4.25,"x2":48.2,"y2":3.49,"a":162},{"x":52.5,"y":4.25,"x2":55.43,"y2":3.75,"a":115},{"x":57.5,"y":4.25,"x2":60,"y2":4.14,"a":95},{"x":62.5,"y":4.25,"x2":65,"y2":4.38,"a":85},{"x":67.5,"y":4.25,"x2":68.4,"y2":4.8,"a":35},{"x":72.5,"y":4.25,"x2":73.32,"y2":4.57,"a":50},{"x":78.2,"y":4.35,"x2":77.4,"y2":4.2,"a":255},{"x":83.1,"y":4.3,"x2":82.2,"y2":4.25,"a":265},{"x":87.5,"y":4.25,"x2":87.6,"y2":4.25,"a":90},
{"x":42.5,"y":1.4,"x2":41.6,"y2":1.4,"a":270},{"x":47.8,"y":1.7,"x2":47.3,"y2":1.45,"a":215},{"x":52.5,"y":1.4,"x2":53,"y2":2.03,"a":20},{"x":57.5,"y":1.4,"x2":57.97,"y2":2.5,"a":10},{"x":62.5,"y":1.4,"x2":62.89,"y2":3.06,"a":5},{"x":67.5,"y":1.4,"x2":68.13,"y2":2.71,"a":12},{"x":72.5,"y":1.4,"x2":72.66,"y2":1.98,"a":5},{"x":77.5,"y":1.4,"x2":77.77,"y2":1.72,"a":20},{"x":82.5,"y":1.4,"x2":82.5,"y2":1.64,"a":0},{"x":87.5,"y":1.6,"x2":87.5,"y2":1.33,"a":180}],
"lab":[{"x":40,"x2":87.5,"y":1.4},{"x":40,"x2":87.5,"y":7.1},{"x":40,"x2":87.5,"y":15.6}],
"lcd":[{"x":40,"x2":87.5,"y":1.4},{"x":40,"x2":87.5,"y":7.1}]
},
"vconcat":[
{"bounds":"flush","spacing":142,"hconcat":[
{"width":460,"height":510,"title":"EP-flux, 15 days before SSW, 80W-110W","encoding":{"x":{"field":"x","type":"quantitative","title":null,"scale":{"domain":[40,90],"nice":false},"axis":{"values":[40,45,50,55,60,65,70,75,80,85,90],"labelExpr":"datum.value+'N'","labelPadding":9}},"y":{"field":"y","type":"quantitative","title":"log-pressure height (km)","scale":{"domain":[0,20],"nice":false},"axis":{"values":[0,5,10,15,20],"titleFontSize":27,"titleX":-45,"titleY":262,"labelPadding":8}}},
"layer":[
{"data":{"name":"pa"},"mark":{"type":"line","filled":true},"encoding":{"color":{"field":"l","type":"nominal","legend":null,"scale":{"domain":[-6,-5,-4,-3,-2,-1,0,1,2,3,4,5],"range":["#A000C8","#8200DC","#1E3CFF","#00A0FF","#00C8C8","#00D28C","#A0E632","#E6DC32","#E6AF2D","#F08228","#FA3C3C","#F00082"]}},"detail":{"field":"k"},"order":{"value":null}}},
{"data":{"name":"lab"},"mark":{"type":"rule","stroke":"#0a8f8f","strokeWidth":1,"opacity":0.45},"encoding":{"x2":{"field":"x2"}}},
{"data":{"name":"aa"},"mark":{"type":"rule","stroke":"black","strokeWidth":2.6},"encoding":{"x2":{"field":"x2"},"y2":{"field":"y2"}}},
{"data":{"name":"aa"},"mark":{"type":"point","shape":"M0,0L1,3L-1,3Z","filled":true,"fill":"black","opacity":1,"size":36},"encoding":{"x":{"field":"x2","type":"quantitative"},"y":{"field":"y2","type":"quantitative"},"angle":{"field":"a","type":"quantitative","scale":null}}},
{"data":{"name":"box"},"mark":{"type":"rect","filled":false,"stroke":"black","strokeWidth":2},"encoding":{"x2":{"field":"x2"},"y2":{"field":"y2"}}},
{"data":{"values":[{"x":74.6,"x2":78.7,"y":-1.57}]},"mark":{"type":"rule","stroke":"black","strokeWidth":1},"encoding":{"x2":{"field":"x2"}}},
{"data":{"values":[{"x":78.9,"y":-1.57,"a":90}]},"mark":{"type":"point","shape":"M0,0L1,3L-1,3Z","filled":true,"fill":"black","opacity":1,"size":4},"encoding":{"angle":{"field":"a","type":"quantitative","scale":null}}},
{"data":{"values":[{"x":76.6,"y":-2.05,"t":"30"}]},"mark":{"type":"text","font":"Liberation Sans","fontSize":13,"color":"black"},"encoding":{"text":{"field":"t"}}},
{"data":{"values":[{"x":42.2,"y":17.7,"t":"a"}]},"mark":{"type":"text","font":"Liberation Sans","fontSize":30,"color":"black"},"encoding":{"text":{"field":"t"}}}
]},
{"width":460,"height":510,"title":"EP-flux, 10 days before SSW, 80W-110W","encoding":{"x":{"field":"x","type":"quantitative","title":null,"scale":{"domain":[40,90],"nice":false},"axis":{"values":[40,45,50,55,60,65,70,75,80,85,90],"labelExpr":"datum.value+'N'","labelPadding":9}},"y":{"field":"y","type":"quantitative","title":null,"scale":{"domain":[0,20],"nice":false},"axis":{"values":[0,5,10,15,20],"labelPadding":8}}},
"layer":[
{"data":{"name":"pb"},"mark":{"type":"line","filled":true},"encoding":{"color":{"field":"l","type":"nominal","legend":null,"scale":{"domain":[-6,-5,-4,-3,-2,-1,0,1,2,3,4,5],"range":["#A000C8","#8200DC","#1E3CFF","#00A0FF","#00C8C8","#00D28C","#A0E632","#E6DC32","#E6AF2D","#F08228","#FA3C3C","#F00082"]}},"detail":{"field":"k"},"order":{"value":null}}},
{"data":{"name":"lab"},"mark":{"type":"rule","stroke":"#0a8f8f","strokeWidth":1,"opacity":0.45},"encoding":{"x2":{"field":"x2"}}},
{"data":{"name":"ab"},"mark":{"type":"rule","stroke":"black","strokeWidth":2.6},"encoding":{"x2":{"field":"x2"},"y2":{"field":"y2"}}},
{"data":{"name":"ab"},"mark":{"type":"point","shape":"M0,0L1,3L-1,3Z","filled":true,"fill":"black","opacity":1,"size":36},"encoding":{"x":{"field":"x2","type":"quantitative"},"y":{"field":"y2","type":"quantitative"},"angle":{"field":"a","type":"quantitative","scale":null}}},
{"data":{"name":"box"},"mark":{"type":"rect","filled":false,"stroke":"black","strokeWidth":2},"encoding":{"x2":{"field":"x2"},"y2":{"field":"y2"}}},
{"data":{"values":[{"x":74.6,"x2":78.7,"y":-1.57}]},"mark":{"type":"rule","stroke":"black","strokeWidth":1},"encoding":{"x2":{"field":"x2"}}},
{"data":{"values":[{"x":78.9,"y":-1.57,"a":90}]},"mark":{"type":"point","shape":"M0,0L1,3L-1,3Z","filled":true,"fill":"black","opacity":1,"size":4},"encoding":{"angle":{"field":"a","type":"quantitative","scale":null}}},
{"data":{"values":[{"x":76.6,"y":-2.05,"t":"30"}]},"mark":{"type":"text","font":"Liberation Sans","fontSize":13,"color":"black"},"encoding":{"text":{"field":"t"}}},
{"data":{"values":[{"x":43.4,"y":17.65,"t":"b"}]},"mark":{"type":"text","font":"Liberation Sans","fontSize":30,"color":"black"},"encoding":{"text":{"field":"t"}}}
]}
]},
{"bounds":"flush","spacing":0,"hconcat":[
{"width":460,"height":510,"title":"EP-flux, 5 days before SSW, 80W-110W","encoding":{"x":{"field":"x","type":"quantitative","title":"Latitude (deg)","scale":{"domain":[40,90],"nice":false},"axis":{"values":[40,45,50,55,60,65,70,75,80,85,90],"labelExpr":"datum.value+'N'","labelPadding":9,"titleFontSize":23,"titleX":227,"titleY":55}},"y":{"field":"y","type":"quantitative","title":"log-pressure height (km)","scale":{"domain":[0,20],"nice":false},"axis":{"values":[0,5,10,15,20],"titleFontSize":25,"titleX":-46,"titleY":262,"labelPadding":8}}},
"layer":[
{"data":{"name":"pc"},"mark":{"type":"line","filled":true},"encoding":{"color":{"field":"l","type":"nominal","legend":null,"scale":{"domain":[-6,-5,-4,-3,-2,-1,0,1,2,3,4,5],"range":["#A000C8","#8200DC","#1E3CFF","#00A0FF","#00C8C8","#00D28C","#A0E632","#E6DC32","#E6AF2D","#F08228","#FA3C3C","#F00082"]}},"detail":{"field":"k"},"order":{"value":null}}},
{"data":{"name":"lcd"},"mark":{"type":"rule","stroke":"#0a8f8f","strokeWidth":1,"opacity":0.45},"encoding":{"x2":{"field":"x2"}}},
{"data":{"name":"ac"},"mark":{"type":"rule","stroke":"black","strokeWidth":2.6},"encoding":{"x2":{"field":"x2"},"y2":{"field":"y2"}}},
{"data":{"name":"ac"},"mark":{"type":"point","shape":"M0,0L1,3L-1,3Z","filled":true,"fill":"black","opacity":1,"size":36},"encoding":{"x":{"field":"x2","type":"quantitative"},"y":{"field":"y2","type":"quantitative"},"angle":{"field":"a","type":"quantitative","scale":null}}},
{"data":{"name":"box"},"mark":{"type":"rect","filled":false,"stroke":"black","strokeWidth":2},"encoding":{"x2":{"field":"x2"},"y2":{"field":"y2"}}},
{"data":{"values":[{"x":74.6,"x2":78.5,"y":-1.92}]},"mark":{"type":"rule","stroke":"black","strokeWidth":1},"encoding":{"x2":{"field":"x2"}}},
{"data":{"values":[{"x":78.7,"y":-1.92,"a":90}]},"mark":{"type":"point","shape":"M0,0L1,3L-1,3Z","filled":true,"fill":"black","opacity":1,"size":4},"encoding":{"angle":{"field":"a","type":"quantitative","scale":null}}},
{"data":{"values":[{"x":76.6,"y":-2.33,"t":"30"}]},"mark":{"type":"text","font":"Liberation Sans","fontSize":13,"color":"black"},"encoding":{"text":{"field":"t"}}},
{"data":{"values":[{"x":41.6,"y":19.25,"t":"c"}]},"mark":{"type":"text","font":"Liberation Sans","fontSize":30,"color":"black"},"encoding":{"text":{"field":"t"}}}
]},
{"width":142,"height":510,"encoding":{"x":{"field":"x","type":"quantitative","axis":null,"scale":{"domain":[-2.571,7.571],"nice":false}},"y":{"field":"y","type":"quantitative","axis":null,"scale":{"domain":[-6.546,6.172],"nice":false}}},
"layer":[
{"data":{"values":[{"l":-5,"x":0,"x2":1,"y":-5,"y2":-4},{"l":-4,"x":0,"x2":1,"y":-4,"y2":-3},{"l":-3,"x":0,"x2":1,"y":-3,"y2":-2},{"l":-2,"x":0,"x2":1,"y":-2,"y2":-1},{"l":-1,"x":0,"x2":1,"y":-1,"y2":0},{"l":0,"x":0,"x2":1,"y":0,"y2":1},{"l":1,"x":0,"x2":1,"y":1,"y2":2},{"l":2,"x":0,"x2":1,"y":2,"y2":3},{"l":3,"x":0,"x2":1,"y":3,"y2":4},{"l":4,"x":0,"x2":1,"y":4,"y2":5}]},"mark":{"type":"rect"},"encoding":{"x2":{"field":"x2"},"y2":{"field":"y2"},"color":{"field":"l","type":"nominal","legend":null,"scale":{"domain":[-6,-5,-4,-3,-2,-1,0,1,2,3,4,5],"range":["#A000C8","#8200DC","#1E3CFF","#00A0FF","#00C8C8","#00D28C","#A0E632","#E6DC32","#E6AF2D","#F08228","#FA3C3C","#F00082"]}}}},
{"data":{"values":[{"k":1,"l":5,"x":0,"y":5},{"k":1,"l":5,"x":0.5,"y":6.1},{"k":1,"l":5,"x":1,"y":5},{"k":2,"l":-6,"x":0,"y":-5},{"k":2,"l":-6,"x":0.5,"y":-6.02},{"k":2,"l":-6,"x":1,"y":-5}]},"mark":{"type":"line","filled":true},"encoding":{"color":{"field":"l","type":"nominal","legend":null,"scale":{"domain":[-6,-5,-4,-3,-2,-1,0,1,2,3,4,5],"range":["#A000C8","#8200DC","#1E3CFF","#00A0FF","#00C8C8","#00D28C","#A0E632","#E6DC32","#E6AF2D","#F08228","#FA3C3C","#F00082"]}},"detail":{"field":"k"},"order":{"value":null}}},
{"data":{"values":[{"k":1,"x":0,"y":5},{"k":1,"x":0.5,"y":6.1},{"k":1,"x":1,"y":5},{"k":1,"x":1,"y":-5},{"k":1,"x":0.5,"y":-6.02},{"k":1,"x":0,"y":-5}]},"mark":{"type":"line","stroke":"black","strokeWidth":1.5},"encoding":{"detail":{"field":"k"},"order":{"value":null}}},
{"data":{"values":[{"x":0,"x2":1,"y":-5,"t":"-5"},{"x":0,"x2":1,"y":-4,"t":"-4"},{"x":0,"x2":1,"y":-3,"t":"-3"},{"x":0,"x2":1,"y":-2,"t":"-2"},{"x":0,"x2":1,"y":-1,"t":"-1"},{"x":0,"x2":1,"y":0,"t":"0"},{"x":0,"x2":1,"y":1,"t":"1"},{"x":0,"x2":1,"y":2,"t":"2"},{"x":0,"x2":1,"y":3,"t":"3"},{"x":0,"x2":1,"y":4,"t":"4"},{"x":0,"x2":1,"y":5,"t":"5"}]},"layer":[
{"mark":{"type":"rule","stroke":"black","strokeWidth":2},"encoding":{"x2":{"field":"x2"}}},
{"mark":{"type":"text","font":"Liberation Sans","fontWeight":"bold","fontSize":15,"color":"black","align":"left","dx":18},"encoding":{"text":{"field":"t"}}}
]}
]},
{"width":460,"height":510,"title":"EP-flux, during SSW, 80W-110W","encoding":{"x":{"field":"x","type":"quantitative","title":"Latitude (deg)","scale":{"domain":[40,90],"nice":false},"axis":{"values":[40,45,50,55,60,65,70,75,80,85,90],"labelExpr":"datum.value+'N'","labelPadding":9,"titleFontSize":23,"titleX":226,"titleY":55}},"y":{"field":"y","type":"quantitative","title":null,"scale":{"domain":[0,20],"nice":false},"axis":{"values":[0,5,10,15,20],"labelPadding":8}}},
"layer":[
{"data":{"name":"pd"},"mark":{"type":"line","filled":true},"encoding":{"color":{"field":"l","type":"nominal","legend":null,"scale":{"domain":[-6,-5,-4,-3,-2,-1,0,1,2,3,4,5],"range":["#A000C8","#8200DC","#1E3CFF","#00A0FF","#00C8C8","#00D28C","#A0E632","#E6DC32","#E6AF2D","#F08228","#FA3C3C","#F00082"]}},"detail":{"field":"k"},"order":{"value":null}}},
{"data":{"name":"lcd"},"mark":{"type":"rule","stroke":"#0a8f8f","strokeWidth":1,"opacity":0.3},"encoding":{"x2":{"field":"x2"}}},
{"data":{"name":"ad"},"mark":{"type":"rule","stroke":"black","strokeWidth":2.6},"encoding":{"x2":{"field":"x2"},"y2":{"field":"y2"}}},
{"data":{"name":"ad"},"mark":{"type":"point","shape":"M0,0L1,3L-1,3Z","filled":true,"fill":"black","opacity":1,"size":36},"encoding":{"x":{"field":"x2","type":"quantitative"},"y":{"field":"y2","type":"quantitative"},"angle":{"field":"a","type":"quantitative","scale":null}}},
{"data":{"name":"box"},"mark":{"type":"rect","filled":false,"stroke":"black","strokeWidth":2},"encoding":{"x2":{"field":"x2"},"y2":{"field":"y2"}}},
{"data":{"values":[{"x":74.7,"x2":78.6,"y":-1.92}]},"mark":{"type":"rule","stroke":"black","strokeWidth":1},"encoding":{"x2":{"field":"x2"}}},
{"data":{"values":[{"x":78.8,"y":-1.92,"a":90}]},"mark":{"type":"point","shape":"M0,0L1,3L-1,3Z","filled":true,"fill":"black","opacity":1,"size":4},"encoding":{"angle":{"field":"a","type":"quantitative","scale":null}}},
{"data":{"values":[{"x":76.7,"y":-2.33,"t":"30"}]},"mark":{"type":"text","font":"Liberation Sans","fontSize":13,"color":"black"},"encoding":{"text":{"field":"t"}}},
{"data":{"values":[{"x":41.6,"y":19.1,"t":"d"}]},"mark":{"type":"text","font":"Liberation Sans","fontSize":30,"color":"black"},"encoding":{"text":{"field":"t"}}}
]}
]}
]}
